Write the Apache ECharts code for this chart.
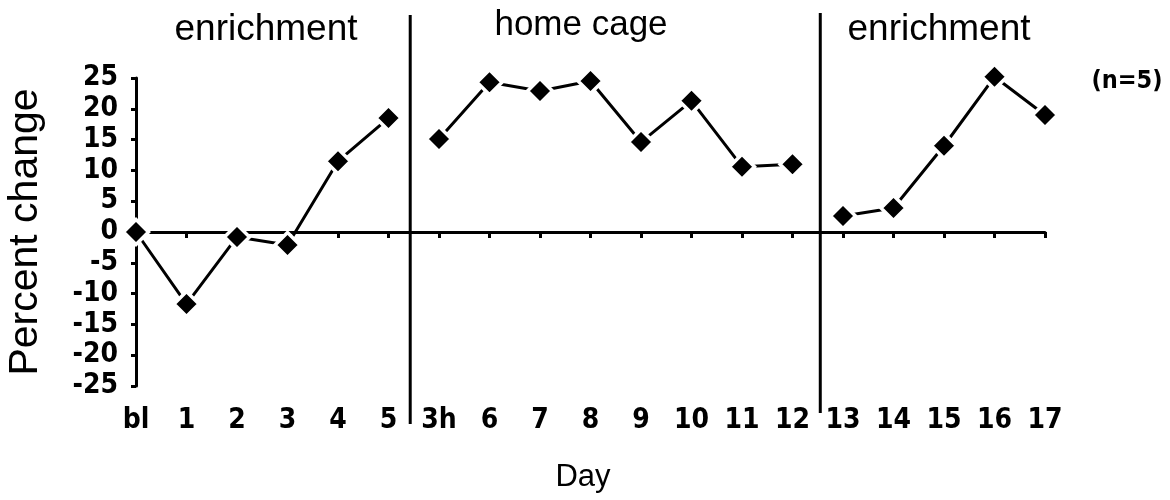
<!DOCTYPE html>
<html>
<head>
<meta charset="utf-8">
<script src="https://cdn.jsdelivr.net/npm/echarts@6/dist/echarts.min.js"></script>
<style>
  html, body { margin: 0; padding: 0; background: #fff; }
  #chart { width: 1170px; height: 500px; }
</style>
</head>
<body>
<div id="chart"></div>
<script>
// Day labels along the x axis (bl = baseline, 3h = 3 hours)
const days = ['bl', '1', '2', '3', '4', '5', '3h', '6', '7', '8', '9', '10', '11', '12', '13', '14', '15', '16', '17'];
// Mean percent change for each day
const pctChange = [0, -11.7, -0.8, -2.1, 11.5, 18.5, 15.1, 24.3, 22.9, 24.5, 14.6, 21.3, 10.6, 11.0, 2.6, 3.9, 14.0, 25.2, 19.0];
// Condition phases: names and index range of days in each
const phaseNames = ['enrichment', 'home cage', 'enrichment'];
const phaseStart = [0, 6, 14];
const phaseEnd = [5, 13, 18];
// Where the phase divider lines sit on the day axis
const dividerAt = [5.43, 13.55];
// Y axis ticks
const yMin = -25, yMax = 25, yStep = 5;

const BLACK = '#000';
const tickFont = { fontFamily: '"DejaVu Sans Condensed", "DejaVu Sans"', fontWeight: 'bold', fontSize: 28, color: BLACK };

const chart = echarts.init(document.getElementById('chart'), null, { renderer: 'canvas' });

const series = phaseStart.map((s, k) => ({
  type: 'line',
  xAxisIndex: 0,
  yAxisIndex: 0,
  clip: false,
  data: pctChange.slice(s, phaseEnd[k] + 1).map((v, j) => [s + j, v]),
  symbol: 'diamond',
  symbolSize: 25,
  itemStyle: { color: BLACK, borderColor: '#fff', borderWidth: 3.5 },
  lineStyle: { color: BLACK, width: 3 },
  z: 5
}));

const xBase = { type: 'value', min: 0, max: days.length - 1, interval: 1, splitLine: { show: false } };

chart.setOption({
  animation: false,
  backgroundColor: '#fff',
  grid: { left: 136, right: 125, top: 78, bottom: 114, containLabel: false, outerBoundsMode: 'none' },
  xAxis: [
    Object.assign({}, xBase, {
      axisLine: { onZero: true, lineStyle: { color: BLACK, width: 3 } },
      axisTick: { show: true, length: 6, lineStyle: { color: BLACK, width: 3 } },
      axisLabel: { show: false }
    }),
    Object.assign({}, xBase, {
      axisLine: { onZero: true, show: false },
      axisTick: { show: true, inside: true, length: 3, lineStyle: { color: BLACK, width: 3 } },
      axisLabel: { show: false }
    }),
    Object.assign({}, xBase, {
      position: 'bottom',
      axisLine: { show: false, onZero: false },
      axisTick: { show: false },
      axisLabel: Object.assign({ margin: 21, formatter: v => days[v] !== undefined ? days[v] : '' }, tickFont)
    })
  ],
  yAxis: [
    {
      type: 'value', min: yMin, max: yMax, interval: yStep,
      splitLine: { show: false },
      axisLine: { show: true, lineStyle: { color: BLACK, width: 3 } },
      axisTick: { show: true, length: 5, lineStyle: { color: BLACK, width: 3 } },
      axisLabel: Object.assign({ margin: 18 }, tickFont),
      name: 'Percent change',
      nameLocation: 'middle',
      nameGap: 90,
      nameTextStyle: { fontFamily: 'Liberation Sans', fontSize: 41, color: BLACK }
    },
    {
      type: 'value', min: yMin, max: yMax, interval: yStep,
      splitLine: { show: false },
      axisLine: { show: false },
      axisTick: { show: true, inside: true, length: 5, lineStyle: { color: BLACK, width: 3 } },
      axisLabel: { show: false }
    }
  ],
  series: series
});

// Phase dividers, phase names and annotations
const dividerTop = [15, 13];
const dividerBottom = [424, 413];
const phaseLabelX = [266, 581, 939];
const phaseLabelY = [30, 25, 30];
const phaseLabelSize = [37, 35, 37];

const graphics = [];
dividerAt.forEach((d, k) => {
  const px = chart.convertToPixel({ xAxisIndex: 0 }, d);
  graphics.push({
    type: 'line',
    shape: { x1: px, y1: dividerTop[k], x2: px, y2: dividerBottom[k] },
    style: { stroke: BLACK, lineWidth: 3 },
    z: 10
  });
});
phaseNames.forEach((name, k) => {
  graphics.push({
    type: 'text',
    x: phaseLabelX[k], y: phaseLabelY[k],
    style: {
      text: name, fill: BLACK, align: 'center', verticalAlign: 'middle',
      font: phaseLabelSize[k] + 'px "Liberation Sans"'
    }
  });
});
graphics.push({
  type: 'text', x: 1127, y: 81,
  style: { text: '(n=5)', fill: BLACK, align: 'center', verticalAlign: 'middle', font: 'bold 25px "DejaVu Sans Condensed", "DejaVu Sans"' }
});
graphics.push({
  type: 'text', x: 583, y: 477,
  style: { text: 'Day', fill: BLACK, align: 'center', verticalAlign: 'middle', font: '31px "Liberation Sans"' }
});
chart.setOption({ graphic: graphics });
</script>
</body>
</html>
